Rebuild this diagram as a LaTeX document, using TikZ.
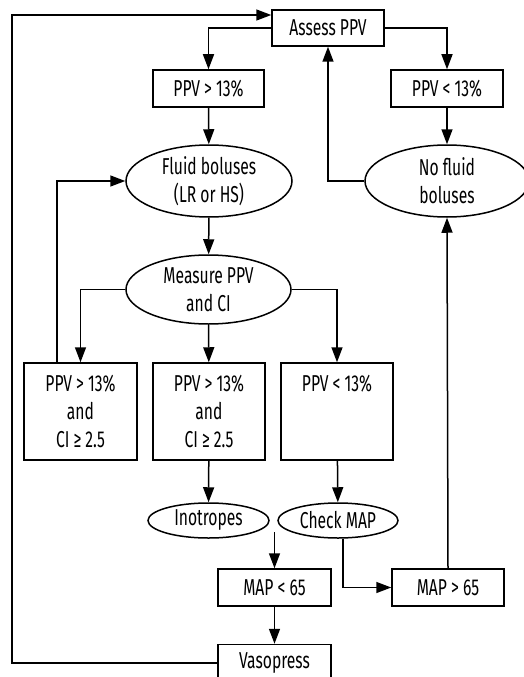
\documentclass[tikz,border=0pt]{standalone}
\usepackage{fontspec}
\setmainfont[FakeStretch=0.68]{Fira Sans}
\usetikzlibrary{arrows.meta,shapes.geometric}
\tikzset{
  base/.style={draw=black, line width=1.5pt, align=center, inner sep=0pt, font=\fontsize{23}{28}\selectfont},
  box/.style={base, rectangle},
  oval/.style={base, ellipse},
  arr/.style={line width=1.5pt, -{Triangle[length=15pt,width=11pt]}}
}
\begin{document}
\begin{tikzpicture}[x=1pt,y=-1pt]
\useasboundingbox (0,0) rectangle (523,677);
\node[box, minimum width=112pt, minimum height=36pt] (assess) at (328,28) {Assess PPV};
\node[box, minimum width=111pt, minimum height=37pt] (ppvhi) at (208.5,88.5) {PPV > 13\%};
\node[box, minimum width=112pt, minimum height=37pt] (ppvlo) at (447,88.5) {PPV < 13\%};
\node[oval, minimum width=166pt, minimum height=72pt] (fluid) at (209,181) {Fluid boluses\\(LR or HS)};
\node[oval, minimum width=164pt, minimum height=72pt] (nofluid) at (447,181) {No fluid\\boluses};
\node[oval, minimum width=165pt, minimum height=69pt] (measure) at (208.5,289.5) {Measure PPV\\and CI};
\node[box, minimum width=113pt, minimum height=97pt] (b1) at (80.5,411.5) {PPV > 13\%\\and\\CI ≥ 2.5};
\node[box, minimum width=112pt, minimum height=97pt] (b2) at (209,411.5) {PPV > 13\%\\and\\CI ≥ 2.5};
\node[box, minimum width=112pt, minimum height=97pt] (b3) at (337,411.5) {PPV < 13\%\\\mbox{}\\\mbox{}};
\node[oval, minimum width=121pt, minimum height=35pt] (ino) at (208.5,520.5) {Inotropes};
\node[oval, minimum width=120pt, minimum height=35pt] (check) at (338,520.5) {Check MAP};
\node[box, minimum width=113pt, minimum height=37pt] (maplo) at (274.5,587.5) {MAP < 65};
\node[box, minimum width=112pt, minimum height=37pt] (maphi) at (448,587.5) {MAP > 65};
\node[box, minimum width=113pt, minimum height=37pt] (vaso) at (274.5,663) {Vasopress};
\coordinate (free) at (274.5,532);
\coordinate (lc) at (12,663);

\draw[arr] (assess.west) -| (ppvhi.north);
\draw[arr] (assess.east) -| (ppvlo.north);
\draw[arr] (ppvhi) -- (fluid);
\draw[arr] (ppvlo) -- (nofluid);
\draw[arr] (nofluid.west) -| (assess.south);
\draw[arr] (fluid) -- (measure);
\draw[arr] (measure.west) -| (b1.north);
\draw[arr] (measure) -- (b2);
\draw[arr] (measure.east) -| (b3.north);
\draw[arr] ([xshift=-23.5pt]b1.north) |- (fluid.west);
\draw[arr] (b2) -- (ino);
\draw[arr] (b3) -- (check);
\draw[arr] (free) -- (maplo.north);
\draw[arr] (maplo) -- (vaso);
\draw[arr] ([xshift=5pt]check.south) |- (maphi.west);
\draw[arr] (maphi.north) -- (nofluid.south);
\draw[arr] (vaso.west) -- (lc) |- ([yshift=13pt]assess.west);
\end{tikzpicture}
\end{document}
